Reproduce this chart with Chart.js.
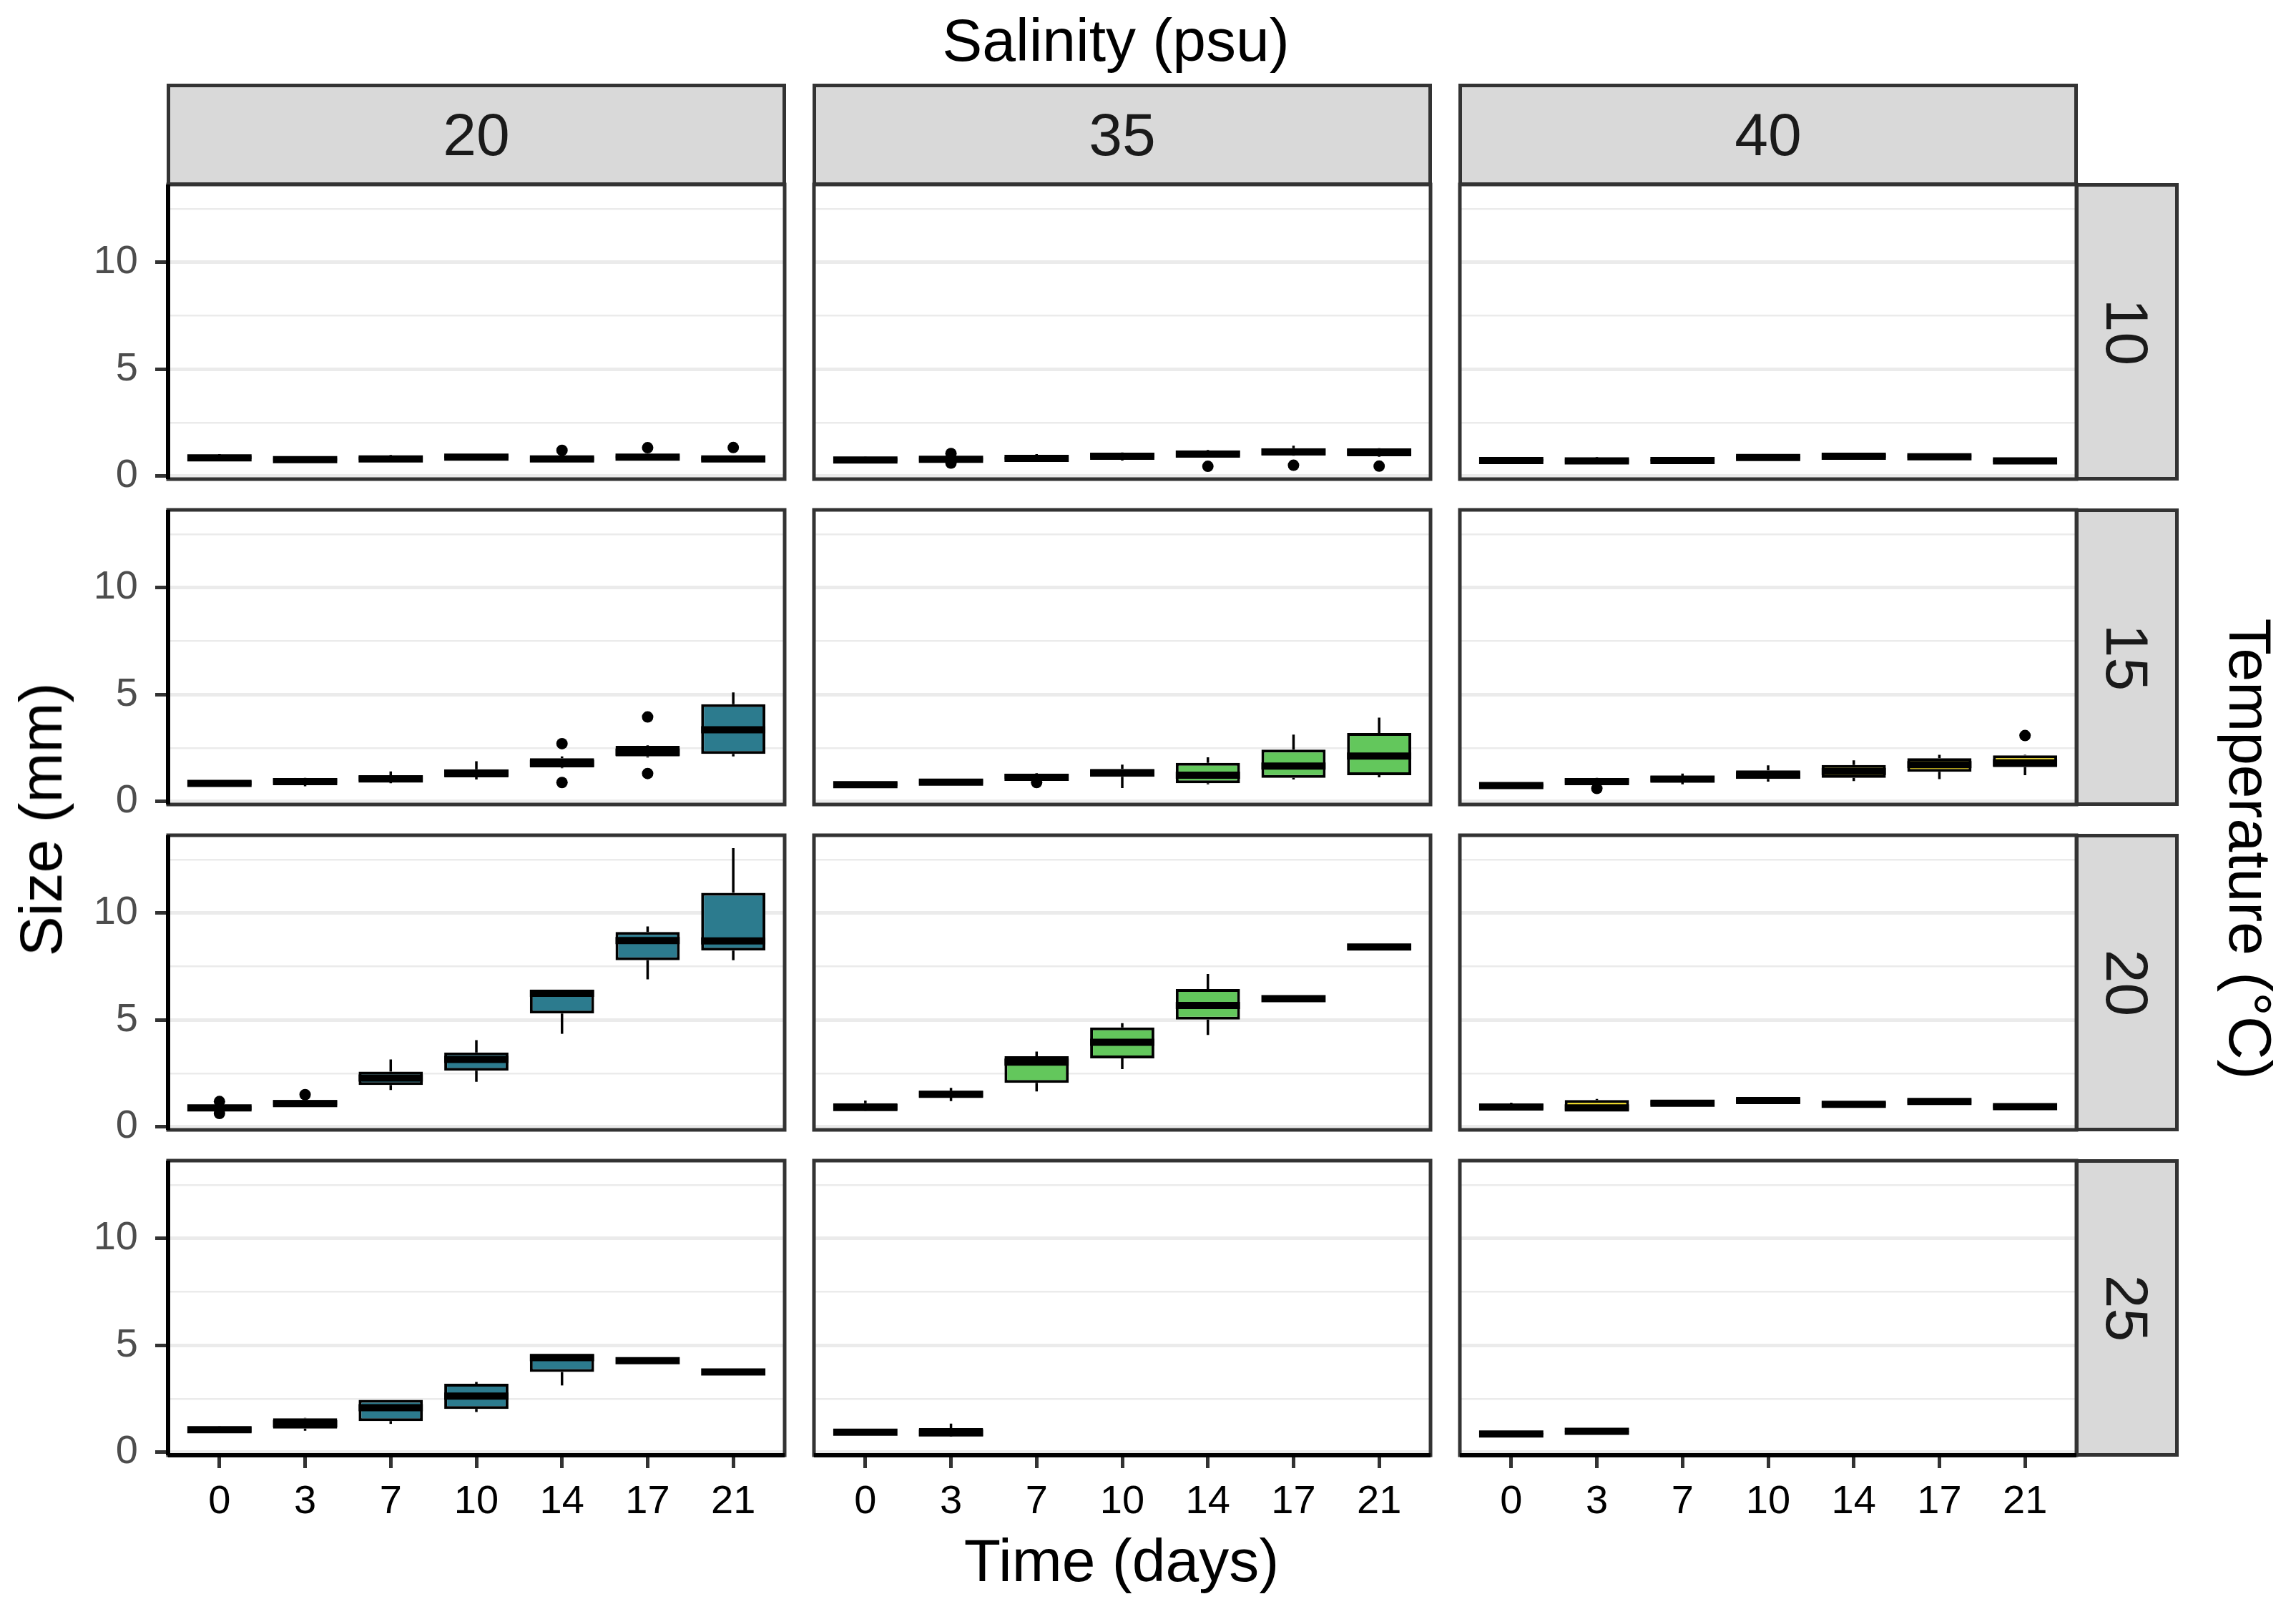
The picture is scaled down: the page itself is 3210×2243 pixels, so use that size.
<!DOCTYPE html>
<html>
<head>
<meta charset="utf-8">
<script src="https://cdn.jsdelivr.net/npm/chart.js@4.4.1/dist/chart.umd.min.js"></script>
<style>
  body { margin: 0; background: #fff; width: 3210px; height: 2243px; position: relative; overflow: hidden;
         font-family: "Liberation Sans", Arial, sans-serif; }
  canvas { position: absolute; }
  .strip { position: absolute; box-sizing: border-box; background: #d9d9d9; border: 5px solid #333;
           color: #1a1a1a; font-size: 84px; display: flex; align-items: center; justify-content: center; }
  .strip.right span { display: inline-block; transform: rotate(90deg); }
  .title { position: absolute; font-size: 84px; color: #000; white-space: nowrap; line-height: 1;
           transform: translate(-50%, -50%); }
</style>
</head>
<body>
<script>
const days = [0, 3, 7, 10, 14, 17, 21];
const salinity = ['20', '35', '40'];
const temperature = ['10', '15', '20', '25'];
const yMajor = [0, 5, 10];
const yMinor = [2.5, 7.5, 12.5];
const fills = ['#2c7b8e', '#63c75c', '#efd81d'];

// box stats per day: [lower whisker, q1, median, q3, upper whisker]
const s20t10 = [[0.72, 0.78, 0.85, 0.95, 1.02], [0.65, 0.70, 0.76, 0.84, 0.88], [0.70, 0.74, 0.80, 0.90, 0.98],
                [0.80, 0.82, 0.88, 0.96, 0.98], [0.68, 0.72, 0.80, 0.90, 0.95], [0.80, 0.82, 0.88, 0.96, 1.00],
                [0.68, 0.72, 0.80, 0.90, 0.95]];
const s35t10 = [[0.62, 0.66, 0.75, 0.85, 0.90], [0.68, 0.70, 0.78, 0.86, 0.90], [0.72, 0.76, 0.82, 0.90, 1.02],
                [0.72, 0.85, 0.92, 1.08, 1.10], [0.90, 0.92, 1.02, 1.20, 1.22], [0.95, 0.98, 1.12, 1.30, 1.42],
                [0.90, 0.92, 1.12, 1.27, 1.30]];
const s40t10 = [[0.65, 0.67, 0.72, 0.80, 0.85], [0.60, 0.62, 0.70, 0.80, 0.88], [0.65, 0.67, 0.72, 0.80, 0.86],
                [0.78, 0.80, 0.86, 0.95, 1.00], [0.82, 0.85, 0.92, 1.02, 1.05], [0.78, 0.85, 0.90, 1.00, 1.02],
                [0.62, 0.64, 0.70, 0.78, 0.82]];

const s20t15 = [[0.72, 0.74, 0.84, 0.96, 0.98], [0.70, 0.84, 0.92, 1.08, 1.10], [0.85, 0.95, 1.05, 1.22, 1.40],
                [1.02, 1.12, 1.32, 1.50, 1.88], [1.55, 1.58, 1.78, 2.02, 2.10], [2.05, 2.10, 2.30, 2.60, 2.62],
                [2.10, 2.22, 3.35, 4.55, 5.10]];
const s35t15 = [[0.68, 0.70, 0.78, 0.90, 0.92], [0.80, 0.82, 0.90, 1.02, 1.05], [1.00, 1.05, 1.12, 1.30, 1.32],
                [0.62, 1.15, 1.32, 1.52, 1.72], [0.80, 0.85, 1.22, 1.80, 2.06], [1.02, 1.10, 1.65, 2.42, 3.12],
                [1.12, 1.22, 2.12, 3.20, 3.92]];
const s40t15 = [[0.64, 0.66, 0.74, 0.84, 0.86], [0.82, 0.84, 0.92, 1.08, 1.10], [0.80, 0.92, 1.04, 1.18, 1.30],
                [0.92, 1.05, 1.22, 1.45, 1.68], [0.95, 1.10, 1.40, 1.70, 1.92], [1.04, 1.38, 1.72, 2.02, 2.18],
                [1.22, 1.60, 1.80, 2.15, 2.18]];

const s20t20 = [[0.78, 0.78, 0.88, 0.98, 1.00], [0.98, 1.00, 1.08, 1.25, 1.28], [1.72, 1.95, 2.28, 2.58, 3.15],
                [2.10, 2.62, 3.15, 3.48, 4.05], [4.35, 5.30, 6.25, 6.42, 6.42], [6.90, 7.80, 8.72, 9.12, 9.38],
                [7.80, 8.25, 8.70, 10.95, 13.05]];
const s35t20 = [[0.75, 0.78, 0.90, 1.10, 1.22], [1.20, 1.38, 1.52, 1.68, 1.82], [1.65, 2.05, 3.02, 3.30, 3.52],
                [2.70, 3.20, 3.95, 4.65, 4.85], [4.30, 5.02, 5.68, 6.45, 7.15], [6.00, 6.00, 6.00, 6.00, 6.00],
                [8.42, 8.42, 8.42, 8.42, 8.42]];
const s40t20 = [[0.78, 0.80, 0.92, 1.08, 1.12], [0.75, 0.78, 0.88, 1.25, 1.30], [0.98, 1.00, 1.10, 1.22, 1.25],
                [1.10, 1.12, 1.22, 1.32, 1.36], [0.95, 0.96, 1.05, 1.16, 1.18], [1.05, 1.08, 1.18, 1.28, 1.30],
                [0.82, 0.84, 0.94, 1.04, 1.08]];

const s20t25 = [[0.90, 0.92, 1.05, 1.18, 1.20], [1.00, 1.10, 1.32, 1.58, 1.60], [1.32, 1.45, 2.08, 2.45, 2.45],
                [1.88, 2.02, 2.62, 3.20, 3.28], [3.12, 3.75, 4.42, 4.60, 4.60], [4.28, 4.28, 4.28, 4.28, 4.28],
                [3.75, 3.75, 3.75, 3.75, 3.75]];
const s35t25 = [[0.93, 0.93, 0.93, 0.93, 0.93], [0.72, 0.75, 0.90, 1.12, 1.33]];
const s40t25 = [[0.78, 0.80, 0.85, 0.90, 0.92], [0.90, 0.92, 0.97, 1.00, 1.02]];

// outliers: [day, size]
const o20t10 = [[14, 1.20], [17, 1.32], [21, 1.33]];
const o35t10 = [[3, 1.05], [3, 0.60], [14, 0.45], [17, 0.50], [21, 0.46]];
const o40t10 = [];
const o20t15 = [[14, 2.70], [14, 0.88], [17, 3.95], [17, 1.30]];
const o35t15 = [[7, 0.88]];
const o40t15 = [[3, 0.60], [21, 3.08]];
const o20t20 = [[0, 1.18], [0, 0.62], [3, 1.50]];
const o35t20 = [];
const o40t20 = [];
const o20t25 = [];
const o35t25 = [];
const o40t25 = [];

const boxes = [[s20t10, s35t10, s40t10], [s20t15, s35t15, s40t15], [s20t20, s35t20, s40t20], [s20t25, s35t25, s40t25]];
const outliers = [[o20t10, o35t10, o40t10], [o20t15, o35t15, o40t15], [o20t20, o35t20, o40t20], [o20t25, o35t25, o40t25]];

const colX = [235, 1138, 2041];
const rowY = [258, 713, 1168, 1623];
const panelW = 862, panelH = 412;
const edge = 8;
const tickFont = { family: 'Liberation Sans, Arial, sans-serif', size: 56 };

function addDiv(cls, text, css) {
    const d = document.createElement('div');
    d.className = cls;
    d.innerHTML = text;
    Object.assign(d.style, css);
    document.body.appendChild(d);
    return d;
}

function noPadding(s) {
    s.paddingTop = 0;
    s.paddingBottom = 0;
    s.paddingLeft = 0;
    s.paddingRight = 0;
}

function boxPlugin(stats, r, c) {
    return {
        id: 'box' + r + c,
        beforeDatasetsDraw(chart) {
            const { x, y } = chart.scales;
            const ctx = chart.ctx;
            ctx.save();
            ctx.strokeStyle = '#000';
            ctx.lineWidth = 3.5;
            stats.forEach((b, i) => {
                const px = x.getPixelForValue(i + 1);
                ctx.beginPath();
                ctx.moveTo(px, y.getPixelForValue(b[0]));
                ctx.lineTo(px, y.getPixelForValue(b[1]));
                ctx.moveTo(px, y.getPixelForValue(b[3]));
                ctx.lineTo(px, y.getPixelForValue(b[4]));
                ctx.stroke();
            });
            ctx.restore();
        },
        afterDatasetsDraw(chart) {
            const y = chart.scales.y;
            const ctx = chart.ctx;
            const bars = chart.getDatasetMeta(1).data;
            ctx.save();
            ctx.strokeStyle = '#000';
            ctx.lineWidth = 10;
            stats.forEach((b, i) => {
                const el = bars[i];
                const py = y.getPixelForValue(b[2]);
                ctx.beginPath();
                ctx.moveTo(el.x - el.width / 2, py);
                ctx.lineTo(el.x + el.width / 2, py);
                ctx.stroke();
            });
            ctx.restore();
        },
        afterDraw(chart) {
            const a = chart.chartArea;
            const ctx = chart.ctx;
            ctx.save();
            ctx.strokeStyle = '#333';
            ctx.lineWidth = 5;
            ctx.strokeRect(a.left, a.top, a.right - a.left, a.bottom - a.top);
            ctx.strokeStyle = '#000';
            ctx.lineWidth = 6;
            ctx.beginPath();
            if (c === 0) { ctx.moveTo(a.left, a.top); ctx.lineTo(a.left, a.bottom); }
            if (r === 3) { ctx.moveTo(a.left, a.bottom); ctx.lineTo(a.right, a.bottom); }
            ctx.stroke();
            ctx.restore();
        }
    };
}

function makePanel(r, c) {
    const padL = c === 0 ? colX[0] : edge;
    const padB = r === 3 ? 140 : (c === 0 ? 40 : edge);
    const cv = document.createElement('canvas');
    cv.width = padL + panelW + edge;
    cv.height = edge + panelH + padB;
    cv.style.left = (colX[c] - padL) + 'px';
    cv.style.top = (rowY[r] - edge) + 'px';
    cv.style.width = cv.width + 'px';
    cv.style.height = cv.height + 'px';
    document.body.appendChild(cv);

    const stats = boxes[r][c];
    const outs = outliers[r][c];

    new Chart(cv, {
        type: 'bar',
        data: {
            datasets: [{
                type: 'scatter',
                data: outs.map(o => ({ x: days.indexOf(o[0]) + 1, y: o[1] })),
                pointRadius: 8,
                pointBackgroundColor: '#000',
                pointBorderWidth: 0
            }, {
                type: 'bar',
                data: stats.map((b, i) => ({ x: i + 1, y: [b[1], b[3]] })),
                backgroundColor: fills[c],
                borderColor: '#000',
                borderWidth: 4,
                borderSkipped: false,
                barPercentage: 1,
                categoryPercentage: 0.75
            }]
        },
        options: {
            responsive: false,
            animation: false,
            layout: { padding: { top: edge, right: edge, left: 0, bottom: 0 }, autoPadding: false },
            plugins: { legend: { display: false }, tooltip: { enabled: false } },
            scales: {
                x: {
                    type: 'linear',
                    min: 0.4,
                    max: 7.6,
                    offset: false,
                    afterBuildTicks: s => { s.ticks = days.map((d, i) => ({ value: i + 1 })); },
                    afterFit: s => { s.height = padB; noPadding(s); },
                    ticks: {
                        display: r === 3,
                        autoSkip: false,
                        maxRotation: 0,
                        padding: 14,
                        color: '#000',
                        font: tickFont,
                        callback: v => String(days[v - 1])
                    },
                    grid: { drawOnChartArea: false, offset: false, drawTicks: r === 3, tickLength: 18, tickWidth: 5, tickColor: '#333' },
                    border: { display: false }
                },
                y: {
                    type: 'linear',
                    min: -0.15,
                    max: 13.65,
                    afterBuildTicks: s => { s.ticks = yMajor.concat(yMinor).sort((a, b) => a - b).map(v => ({ value: v })); },
                    afterFit: s => { s.width = padL; noPadding(s); },
                    ticks: {
                        display: c === 0,
                        padding: 24,
                        color: '#4d4d4d',
                        font: tickFont,
                        callback: v => yMajor.includes(v) ? String(v) : ''
                    },
                    grid: {
                        color: '#ebebeb',
                        lineWidth: ctx => yMajor.includes(ctx.tick.value) ? 5 : 2.5,
                        drawTicks: c === 0,
                        tickLength: 18,
                        tickWidth: 5,
                        tickColor: ctx => yMajor.includes(ctx.tick.value) ? '#333' : 'rgba(0,0,0,0)'
                    },
                    border: { display: false }
                }
            }
        },
        plugins: [boxPlugin(stats, r, c)]
    });
}

// strips
salinity.forEach((s, c) => {
    addDiv('strip', '<span>' + s + '</span>', { left: (colX[c] - 2) + 'px', top: '117px', width: (panelW + 4) + 'px', height: '143px' });
});
temperature.forEach((t, r) => {
    addDiv('strip right', '<span>' + t + '</span>', { left: (colX[2] + panelW - 2) + 'px', top: (rowY[r] - 2) + 'px', width: '145px', height: (panelH + 4) + 'px' });
});

for (let r = 0; r < 4; r++) {
    for (let c = 0; c < 3; c++) makePanel(r, c);
}

addDiv('title', 'Salinity (psu)', { left: '1560px', top: '56px' });
addDiv('title', 'Time (days)', { left: '1568px', top: '2182px' });
addDiv('title', 'Size (mm)', { left: '57px', top: '1146px', transform: 'translate(-50%, -50%) rotate(-90deg)' });
addDiv('title', 'Temperature (°C)', { left: '3146px', top: '1187px', transform: 'translate(-50%, -50%) rotate(90deg)' });
</script>
</body>
</html>
